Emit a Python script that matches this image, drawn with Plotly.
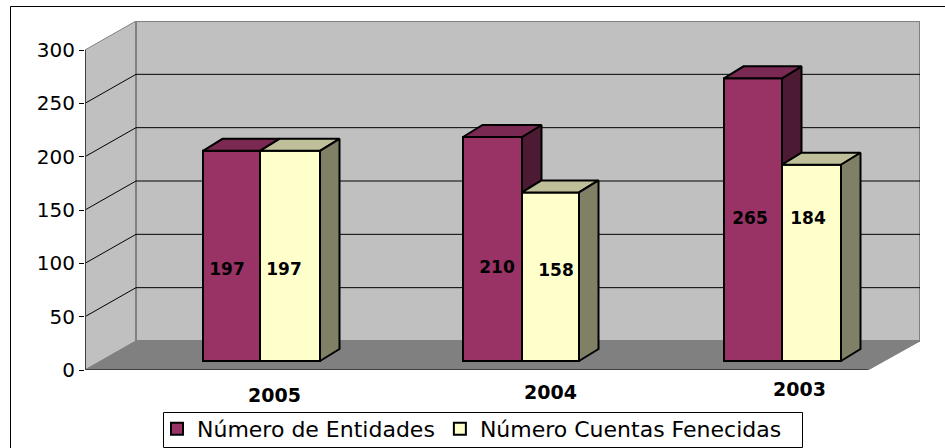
import plotly.graph_objects as go

# ---- data ----
years = ["2005", "2004", "2003"]
entidades = [197, 210, 265]
cuentas = [197, 158, 184]
y_ticks = [0, 50, 100, 150, 200, 250, 300]
series_names = ["Número de Entidades", "Número Cuentas Fenecidas"]

# ---- layout constants (oblique projection of the Excel 3-D chart) ----
PX_PER_UNIT = 320 / 300
FRONT_X0, FRONT_X1, BACK_X0, BACK_X1 = 85, 868, 136, 920
WALL_DY = 29 / PX_PER_UNIT
BAR_BASE = 9 / PX_PER_UNIT
BAR_DX, BAR_DY = 19.5, 12 / PX_PER_UNIT
MAROON_X = [203, 463, 724]
DIVIDE_X = [260, 522, 782]
YELLOW_X = [320, 579, 841]
LABEL_X_E = [227, 497, 750]
LABEL_X_C = [284, 556, 808]
LABEL_Y_E = [93, 95, 141]
LABEL_Y_C = [93, 92, 141]
CAT_LABEL_X = [274, 550, 799]
CAT_LABEL_PX = [395, 392, 389]

MAROON, MAROON_TOP, MAROON_SIDE = "#993366", "#7A2952", "#4D1A33"
YELLOW, YELLOW_TOP, YELLOW_SIDE = "#FFFFCC", "#BFBF99", "#808066"
FONT = "DejaVu Sans, Liberation Sans, Arial, sans-serif"

PLOT_W, PLOT_H = 835, 349
Y_TOP = PLOT_H / PX_PER_UNIT


def paper_x(px):
    return (px - 85) / PLOT_W


def paper_y(px):
    return (370 - px) / PLOT_H


fig = go.Figure()


def polys(rects, fill):
    xs, ys = [], []
    for r in rects:
        xs += [p[0] for p in r] + [r[0][0], None]
        ys += [p[1] for p in r] + [r[0][1], None]
    fig.add_trace(go.Scatter(x=xs, y=ys, mode="lines", fill="toself", fillcolor=fill,
                             line=dict(color="black", width=2), showlegend=False,
                             hoverinfo="skip"))


# fronts: real bars through the axes
fig.add_trace(go.Bar(
    x=[(a + b) / 2 for a, b in zip(MAROON_X, DIVIDE_X)], y=entidades, base=BAR_BASE,
    width=[b - a for a, b in zip(MAROON_X, DIVIDE_X)],
    marker=dict(color=MAROON, line=dict(color="black", width=2)),
    name=series_names[0], hoverinfo="skip"))
fig.add_trace(go.Bar(
    x=[(a + b) / 2 for a, b in zip(DIVIDE_X, YELLOW_X)], y=cuentas, base=BAR_BASE,
    width=[b - a for a, b in zip(DIVIDE_X, YELLOW_X)],
    marker=dict(color=YELLOW, line=dict(color="black", width=2)),
    name=series_names[1], hoverinfo="skip"))

# depth faces derived from the values
maroon_sides, maroon_tops, yellow_sides, yellow_tops = [], [], [], []
for m0, d, y1, e, c in zip(MAROON_X, DIVIDE_X, YELLOW_X, entidades, cuentas):
    te, tc = e + BAR_BASE, c + BAR_BASE
    maroon_tops.append([(m0, te), (m0 + BAR_DX, te + BAR_DY), (d + BAR_DX, te + BAR_DY), (d, te)])
    if e > c:
        maroon_sides.append([(d, te), (d + BAR_DX, te + BAR_DY), (d + BAR_DX, tc + BAR_DY), (d, tc)])
    yellow_tops.append([(d, tc), (d + BAR_DX, tc + BAR_DY), (y1 + BAR_DX, tc + BAR_DY), (y1, tc)])
    yellow_sides.append([(y1, tc), (y1 + BAR_DX, tc + BAR_DY), (y1 + BAR_DX, BAR_BASE + BAR_DY), (y1, BAR_BASE)])
polys(maroon_sides, MAROON_SIDE)
polys(maroon_tops, MAROON_TOP)
polys(yellow_tops, YELLOW_TOP)
polys(yellow_sides, YELLOW_SIDE)

# value labels
fig.add_trace(go.Scatter(x=LABEL_X_E + LABEL_X_C, y=LABEL_Y_E + LABEL_Y_C, mode="text",
                         text=[str(v) for v in entidades + cuentas],
                         textfont=dict(family=FONT, size=17, color="black", weight="bold"),
                         showlegend=False, hoverinfo="skip"))

# walls, floor, gridlines
shapes = []


def path(points):
    return "M " + " L ".join(f"{x},{y}" for x, y in points) + " Z"


shapes.append(dict(type="path", path=path([(FRONT_X0, 0), (BACK_X0, WALL_DY), (BACK_X0, Y_TOP), (FRONT_X0, 300)]),
                   fillcolor="#C0C0C0", line=dict(color="#808080", width=1), layer="below"))
shapes.append(dict(type="rect", x0=BACK_X0, x1=BACK_X1, y0=WALL_DY, y1=Y_TOP,
                   fillcolor="#C0C0C0", line=dict(color="#808080", width=2), layer="below"))
shapes.append(dict(type="path", path=path([(FRONT_X0, 0), (BACK_X0, WALL_DY), (BACK_X1, WALL_DY), (FRONT_X1, 0)]),
                   fillcolor="#808080", line=dict(color="#808080", width=1), layer="below"))
for t in y_ticks[1:-1]:
    shapes.append(dict(type="line", x0=FRONT_X0, x1=BACK_X0, y0=t, y1=t + WALL_DY,
                       line=dict(color="black", width=1), layer="below"))
    shapes.append(dict(type="line", x0=BACK_X0, x1=BACK_X1, y0=t + WALL_DY, y1=t + WALL_DY,
                       line=dict(color="black", width=1), layer="below"))
shapes.append(dict(type="line", x0=FRONT_X0, x1=FRONT_X0, y0=0, y1=300, line=dict(color="#404040", width=2), layer="below"))
shapes.append(dict(type="line", x0=FRONT_X0, x1=FRONT_X1, y0=0, y1=0, line=dict(color="#404040", width=2), layer="below"))
# outer chart frame (right and bottom edges lie outside the picture)
shapes.append(dict(type="rect", xref="paper", yref="paper",
                   x0=paper_x(10.5), x1=paper_x(960), y0=paper_y(470), y1=paper_y(6.5),
                   line=dict(color="black", width=1), layer="below"))
# legend box
shapes.append(dict(type="rect", xref="paper", yref="paper",
                   x0=paper_x(163.5), x1=paper_x(802.5), y0=paper_y(447.5), y1=paper_y(412.5),
                   fillcolor="white", line=dict(color="black", width=1), layer="below"))

annotations = [dict(x=paper_x(x), y=paper_y(py), text=f"<b>{c}</b>", showarrow=False,
                    xref="paper", yref="paper", xanchor="center", yanchor="middle",
                    font=dict(family=FONT, size=19, color="black"))
               for x, py, c in zip(CAT_LABEL_X, CAT_LABEL_PX, years)]

fig.update_layout(
    width=945, height=448, autosize=False,
    margin=dict(l=85, r=25, t=21, b=78, pad=0, autoexpand=False),
    paper_bgcolor="white", plot_bgcolor="rgba(0,0,0,0)",
    barmode="overlay", shapes=shapes, annotations=annotations,
    font=dict(family=FONT, color="black"),
    xaxis=dict(range=[85, 920], showgrid=False, zeroline=False, showticklabels=False, ticks="", showline=False),
    yaxis=dict(range=[0, Y_TOP], tickvals=y_ticks, showgrid=False, zeroline=False, showline=False,
               ticks="outside", ticklen=5, tickcolor="black", tickwidth=1,
               tickfont=dict(family=FONT, size=20, color="black")),
    legend=dict(orientation="h", x=paper_x(157), y=paper_y(408), xanchor="left", yanchor="top",
                bgcolor="rgba(0,0,0,0)", borderwidth=0,
                font=dict(family=FONT, size=22, color="black"), traceorder="normal"),
)

fig.write_html("out.html", config={"displayModeBar": False},
               post_script="document.body.style.margin='0';document.documentElement.style.overflow='hidden';")
